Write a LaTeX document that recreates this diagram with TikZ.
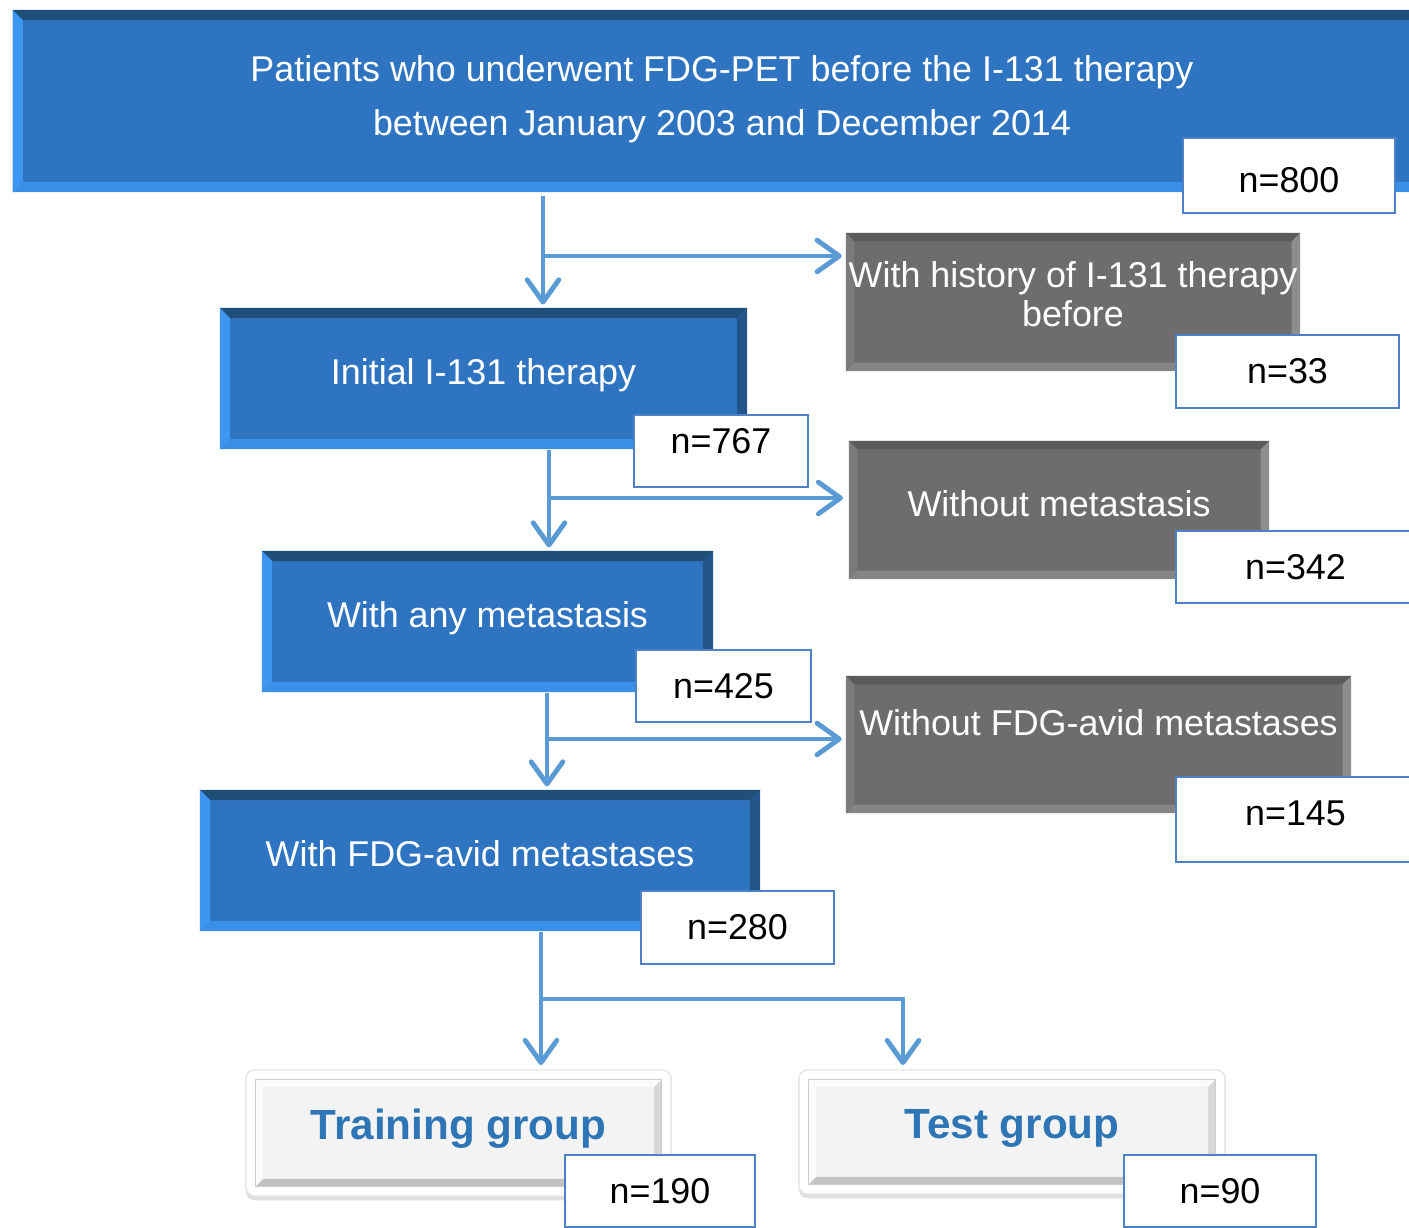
\documentclass[tikz,border=0pt]{standalone}
\usepackage{fontspec}
\setmainfont{Liberation Sans}
\usetikzlibrary{arrows.meta,shadows}
\definecolor{bbase}{HTML}{2E74C1}
\definecolor{btop}{HTML}{1F4E79}
\definecolor{bleft}{HTML}{3D96F0}
\definecolor{bbot}{HTML}{3A8FE8}
\definecolor{bright}{HTML}{24558A}
\definecolor{gbase}{HTML}{6E6C6F}
\definecolor{gtop}{HTML}{5C5A5C}
\definecolor{gleft}{HTML}{7C7A7C}
\definecolor{gbot}{HTML}{858585}
\definecolor{gright}{HTML}{8E8E8E}
\definecolor{arrowblue}{HTML}{5B9BD5}
\definecolor{cntblue}{HTML}{4F81C7}
\definecolor{grpblue}{HTML}{2E75B6}
\definecolor{lbase}{HTML}{F3F3F3}
\definecolor{ltop}{HTML}{FAFAFA}
\definecolor{lleft}{HTML}{FCFCFC}
\definecolor{lbot}{HTML}{C2C2C2}
\definecolor{lright}{HTML}{D8D8D8}
\newcommand{\bevelrect}[7]{%
 \coordinate (bvA) at ([shift={(#1,#1)}]path picture bounding box.south west);
 \coordinate (bvB) at ([shift={(-#1,-#1)}]path picture bounding box.north east);
 \coordinate (bvC) at ([shift={(#2,#2)}]bvA);
 \coordinate (bvD) at ([shift={(-#2,-#2)}]bvB);
 \fill[#7,sharp corners] (bvA) rectangle (bvB);
 \fill[#3,sharp corners] (bvA|-bvB) -- (bvB) -- (bvD) -- (bvC|-bvD) -- cycle;
 \fill[#5,sharp corners] (bvA) -- (bvB|-bvA) -- (bvD|-bvC) -- (bvC) -- cycle;
 \fill[#4,sharp corners] (bvA) -- (bvA|-bvB) -- (bvC|-bvD) -- (bvC) -- cycle;
 \fill[#6,sharp corners] (bvB|-bvA) -- (bvB) -- (bvD) -- (bvD|-bvC) -- cycle;
}
\tikzset{
 txt/.style={font=\fontsize{10.2}{12}\selectfont, align=center},
 bluebox/.style={txt, inner sep=0pt, fill=bbase, text=white, text depth=3.8pt,
   path picture={\bevelrect{0pt}{2.9pt}{btop}{bleft}{bbot}{bright}{bbase}}},
 graybox/.style={txt, inner sep=0pt, fill=gbase, text=white, text depth=3.8pt,
   path picture={\bevelrect{0pt}{2.4pt}{gtop}{gleft}{gbot}{gright}{gbase}}},
 countbox/.style={txt, inner sep=0pt, draw=cntblue, line width=0.7pt, fill=white, text=black},
 lightbox/.style={inner sep=0pt, fill=white, draw=gray!20, line width=0.4pt, rounded corners=2.5pt,
   drop shadow={shadow xshift=0pt, shadow yshift=-1.2pt, opacity=0.25},
   font=\fontsize{12}{14}\selectfont\bfseries, text=grpblue, text depth=4.8pt,
   path picture={\bevelrect{2.7pt}{2.2pt}{ltop}{lleft}{lbot}{lright}{lbase}
     \draw[gray!40, line width=0.4pt, sharp corners] (bvA) rectangle (bvB);}},
 conn/.style={draw=arrowblue, line width=1.4pt, -{Straight Barb[length=6.3pt,width=9pt,round]}}
}
\begin{document}
\begin{tikzpicture}[x=0.01cm,y=-0.01cm]
\useasboundingbox (0,0) rectangle (1409,1228);
% main blue boxes
\node[bluebox, minimum width=14.18cm, minimum height=1.82cm, font=\fontsize{10.2}{15.4}\selectfont, text depth=3pt] (top) at (722,101)
  {Patients who underwent FDG-PET before the I-131 therapy\\between January 2003 and December 2014};
\node[bluebox, minimum width=5.27cm, minimum height=1.41cm] (init) at (483.5,378.5) {Initial I-131 therapy};
\node[bluebox, minimum width=4.51cm, minimum height=1.41cm] (anymeta) at (487.5,621.5) {With any metastasis};
\node[bluebox, minimum width=5.60cm, minimum height=1.41cm] (fdg) at (480,860.5) {With FDG-avid metastases};
% gray boxes
\node[graybox, minimum width=4.54cm, minimum height=1.38cm, font=\fontsize{10.2}{11.1}\selectfont, text depth=4.5pt] (hist) at (1073,302)
  {With history of I-131 therapy\\before};
\node[graybox, minimum width=4.20cm, minimum height=1.38cm] (nometa) at (1059,510) {Without metastasis};
\node[graybox, minimum width=5.05cm, minimum height=1.37cm, text depth=12.5pt] (nofdg) at (1098.5,744.5) {Without FDG-avid metastases};
% group boxes
\node[lightbox, minimum width=4.25cm, minimum height=1.26cm] (train) at (458.5,1133) {Training group};
\node[lightbox, minimum width=4.26cm, minimum height=1.24cm] (test) at (1012,1132) {Test group};
% count boxes
\node[countbox, minimum width=2.12cm, minimum height=0.75cm, text height=9.9pt] (n800) at (1289,175.5) {n=800};
\node[countbox, minimum width=2.23cm, minimum height=0.73cm] (n33) at (1287.5,371.5) {n=33};
\node[countbox, minimum width=1.74cm, minimum height=0.72cm, text depth=5.7pt] (n767) at (721,451) {n=767};
\node[countbox, minimum width=2.39cm, minimum height=0.72cm] (n342) at (1295.5,567) {n=342};
\node[countbox, minimum width=1.75cm, minimum height=0.72cm] (n425) at (723.5,686) {n=425};
\node[countbox, minimum width=2.39cm, minimum height=0.85cm, text depth=3.4pt] (n145) at (1295.5,819.5) {n=145};
\node[countbox, minimum width=1.93cm, minimum height=0.73cm] (n280) at (737.5,927.5) {n=280};
\node[countbox, minimum width=1.90cm, minimum height=0.72cm] (n190) at (660,1191) {n=190};
\node[countbox, minimum width=1.92cm, minimum height=0.72cm] (n90) at (1220,1191) {n=90};
% connectors
\coordinate (j1) at (543,256);
\draw[conn] ([yshift=-1pt]top.south -| j1) -- ([yshift=0.8pt]init.north -| j1);
\draw[conn] (j1) -- ([xshift=-1pt]hist.west |- j1);
\coordinate (j2) at (549,498);
\draw[conn] (init.south -| j2) -- ([yshift=0.8pt]anymeta.north -| j2);
\draw[conn] (j2) -- ([xshift=-1.5pt]nometa.west |- j2);
\coordinate (j3) at (547,739);
\draw[conn] (anymeta.south -| j3) -- ([yshift=0.8pt]fdg.north -| j3);
\draw[conn] (j3) -- ([xshift=-1pt]nofdg.west |- j3);
\coordinate (j4) at (541,999);
\coordinate (j5) at (903,999);
\draw[conn] (fdg.south -| j4) -- ([yshift=1.2pt]train.north -| j4);
\draw[conn] (j4) -- (j5) -- ([yshift=1.2pt]test.north -| j5);
\end{tikzpicture}
\end{document}
